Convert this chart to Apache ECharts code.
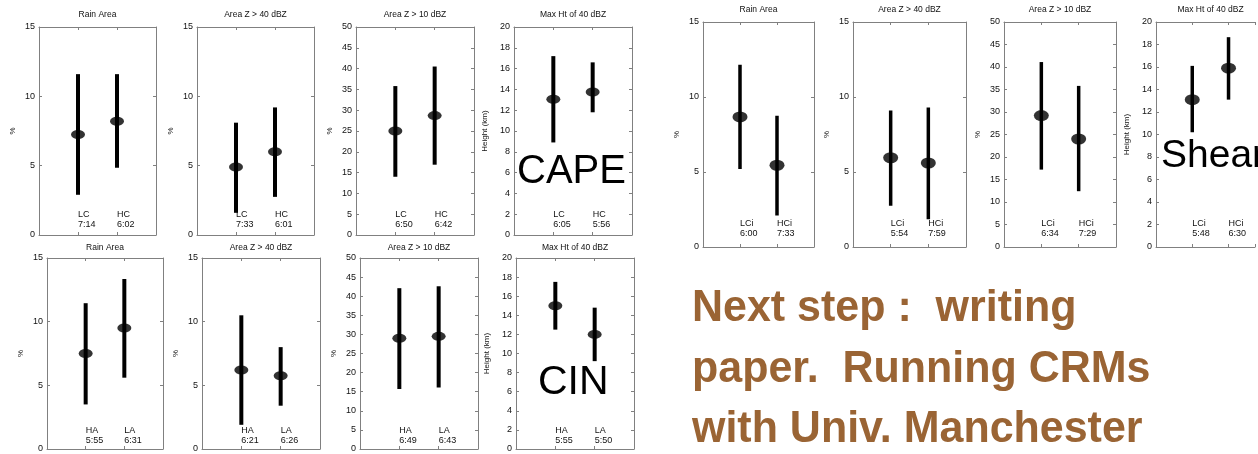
<!DOCTYPE html>
<html>
<head>
<meta charset="utf-8">
<script src="https://cdn.jsdelivr.net/npm/echarts@6/dist/echarts.min.js"></script>
<style>
  html, body { margin: 0; padding: 0; background: #fff; }
  #main { width: 1258px; height: 454px; }
</style>
</head>
<body>
<div id="main"></div>
<script>
// panel setup shared by the three groups
const panelTitles = ['Rain Area', 'Area Z > 40 dBZ', 'Area Z > 10 dBZ', 'Max Ht of 40 dBZ'];
const yMaxes = [15, 15, 50, 20];
const ySteps = [5, 5, 5, 2];
const yNames = ['%', '%', '%', 'Height (km)'];

// CAPE (top left)
const capeLabels = [['LC\n7:14', 'HC\n6:02'], ['LC\n7:33', 'HC\n6:01'], ['LC\n6:50', 'HC\n6:42'], ['LC\n6:05', 'HC\n5:56']];
const capeMean = [[7.25, 8.2], [4.9, 6.0], [25.0, 28.7], [13.05, 13.75]];
const capeLow = [[2.9, 4.85], [1.6, 2.75], [14.0, 16.9], [8.9, 11.8]];
const capeHigh = [[11.6, 11.6], [8.1, 9.2], [35.8, 40.5], [17.2, 16.6]];

// CIN (bottom left)
const cinLabels = [['HA\n5:55', 'LA\n6:31'], ['HA\n6:21', 'LA\n6:26'], ['HA\n6:49', 'LA\n6:43'], ['HA\n5:55', 'LA\n5:50']];
const cinMean = [[7.5, 9.5], [6.2, 5.75], [29.0, 29.5], [15.0, 12.0]];
const cinLow = [[3.5, 5.6], [1.9, 3.4], [15.7, 16.1], [12.5, 9.2]];
const cinHigh = [[11.45, 13.35], [10.5, 8.0], [42.1, 42.6], [17.5, 14.8]];

// Shear (top right)
const shearLabels = [['LCi\n6:00', 'HCi\n7:33'], ['LCi\n5:54', 'HCi\n7:59'], ['LCi\n6:34', 'HCi\n7:29'], ['LCi\n5:48', 'HCi\n6:30']];
const shearMean = [[8.67, 5.45], [5.95, 5.6], [29.2, 24.0], [13.1, 15.9]];
const shearLow = [[5.2, 2.1], [2.75, 1.85], [17.2, 12.4], [10.2, 13.1]];
const shearHigh = [[12.15, 8.75], [9.1, 9.3], [41.1, 35.8], [16.1, 18.65]];

const noteLines = ['Next step :  writing', 'paper.  Running CRMs', 'with Univ. Manchester'];

const axisGray = '#808080';
const grids = [], xAxes = [], yAxes = [], series = [];

function addGroup(lefts, widths, top, height, labels, mean, low, high, st) {
    for (let i = 0; i < 4; i++) {
        const g = grids.length;
        grids.push({ left: lefts[i], top: top, width: widths[i], height: height, containLabel: false });
        const lbl = labels[i];
        // last shear panel runs off the right edge of the page
        const xMax = (st.xMaxLast && i === 3) ? st.xMaxLast : 3;
        const base = {
            gridIndex: g, type: 'value', min: 0, max: xMax, interval: 1,
            axisLine: { show: true, onZero: false, lineStyle: { color: axisGray, width: 1 } },
            axisTick: { show: true, inside: true, length: 3, lineStyle: { color: axisGray } },
            splitLine: { show: false }
        };
        xAxes.push(Object.assign({}, base, {
            position: 'bottom',
            axisLabel: {
                inside: true, margin: st.labMargin, fontSize: 9, lineHeight: 9.5, color: '#111',
                fontFamily: 'Liberation Sans', align: 'left', verticalAlign: 'bottom',
                formatter: v => v === 1 ? lbl[0] : (v === 2 ? lbl[1] : '')
            }
        }));
        xAxes.push(Object.assign({}, base, {
            position: 'top',
            axisLabel: { show: false },
            name: panelTitles[i], nameLocation: 'middle', nameGap: st.titleGap,
            nameTextStyle: { fontSize: 8.5, color: '#111', fontFamily: 'Liberation Sans', padding: [0, 0, 0, xMax < 3 ? 10 : 0] }
        }));
        const ybase = {
            gridIndex: g, type: 'value', min: 0, max: yMaxes[i], interval: ySteps[i],
            axisLine: { show: true, onZero: false, lineStyle: { color: axisGray, width: 1 } },
            axisTick: { show: true, inside: true, length: 3, lineStyle: { color: axisGray } },
            splitLine: { show: false }
        };
        yAxes.push(Object.assign({}, ybase, {
            position: 'left',
            axisLabel: { margin: 4, fontSize: 9, color: '#111', fontFamily: 'Liberation Sans' },
            name: yNames[i], nameLocation: 'middle', nameGap: i === 3 ? 25 : 22, nameRotate: 90,
            nameTextStyle: { fontSize: 8, color: '#111', fontFamily: 'Liberation Sans' }
        }));
        yAxes.push(Object.assign({}, ybase, { position: 'right', axisLabel: { show: false }, show: xMax === 3 }));

        const xi = xAxes.length - 2, yi = yAxes.length - 2;
        series.push({
            type: 'custom', xAxisIndex: xi, yAxisIndex: yi,
            data: [[1, low[i][0], high[i][0]], [2, low[i][1], high[i][1]]],
            encode: { x: 0, y: [1, 2] },
            renderItem: function (params, api) {
                const p1 = api.coord([api.value(0), api.value(1)]);
                const p2 = api.coord([api.value(0), api.value(2)]);
                return {
                    type: 'line',
                    shape: { x1: p1[0], y1: p1[1], x2: p2[0], y2: p2[1] },
                    style: { stroke: '#000', lineWidth: st.barWidth }
                };
            }
        });
        series.push({
            type: 'scatter', xAxisIndex: xi, yAxisIndex: yi,
            symbol: 'circle', symbolSize: st.marker,
            itemStyle: { color: '#000' },
            data: [[1, mean[i][0]], [2, mean[i][1]]]
        });
    }
}

addGroup([39, 197, 356, 514], [117, 117, 118, 118], 27, 208,
    capeLabels, capeMean, capeLow, capeHigh, { labMargin: 6, titleGap: 8, barWidth: 4, marker: [14, 9] });
addGroup([47, 202, 360, 516], [116, 118, 118, 118], 258, 191,
    cinLabels, cinMean, cinLow, cinHigh, { labMargin: 4, titleGap: 6, barWidth: 4, marker: [14, 9] });
addGroup([703, 853, 1004, 1156], [111, 113, 112, 102], 22, 225,
    shearLabels, shearMean, shearLow, shearHigh, { labMargin: 9, titleGap: 8, barWidth: 3.5, marker: [15, 11], xMaxLast: 2.73 });

const bigFont = 'Liberation Sans';
const graphics = [
    { type: 'text', x: 517, y: 172, style: { text: 'CAPE', fontSize: 40, fontFamily: bigFont, fill: '#000', textVerticalAlign: 'middle' } },
    { type: 'text', x: 538, y: 383, style: { text: 'CIN', fontSize: 41, fontFamily: bigFont, fill: '#000', textVerticalAlign: 'middle' } },
    { type: 'text', x: 1161, y: 156, style: { text: 'Shear', fontSize: 39, fontFamily: bigFont, fill: '#000', textVerticalAlign: 'middle' } }
];
const noteY = [308.5, 370, 429.5];
noteLines.forEach((t, k) => {
    graphics.push({
        type: 'text', x: 692, y: noteY[k], scaleX: 0.955,
        style: { text: t, fontSize: 45, fontWeight: 'bold', fontFamily: bigFont, fill: '#9a6434', textVerticalAlign: 'middle' }
    });
});

const chart = echarts.init(document.getElementById('main'), null, { renderer: 'canvas' });
chart.setOption({
    backgroundColor: '#fff',
    animation: false,
    grid: grids,
    xAxis: xAxes,
    yAxis: yAxes,
    series: series,
    graphic: graphics
});
</script>
</body>
</html>
